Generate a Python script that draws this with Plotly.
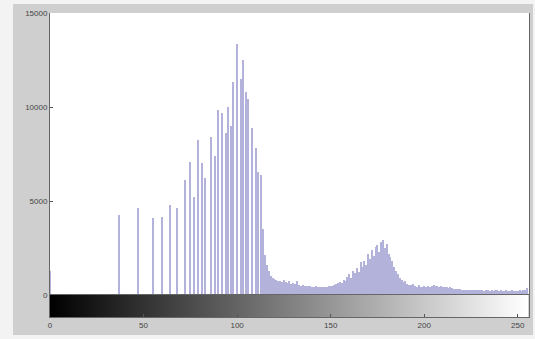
import plotly.graph_objects as go

# Histogram data (gray level -> pixel count)
levels = [0, 37, 47, 55, 60, 64, 68, 72, 75, 77, 79, 81, 83, 86, 88, 90, 92, 94,
          95, 97, 98, 100, 102, 103, 105, 106, 108, 110, 111, 113, 114, 115,
          116, 117, 118, 119, 120, 121, 122, 123, 124, 125, 126, 127, 128, 129, 130,
          131, 132, 133, 134, 135, 136, 137, 138, 139, 140, 141, 142, 143, 144, 145,
          146, 147, 148, 149, 150, 151, 152, 153, 154, 155, 156, 157, 158, 159, 160,
          161, 162, 163, 164, 165, 166, 167, 168, 169, 170, 171, 172, 173, 174, 175,
          176, 177, 178, 179, 180, 181, 182, 183, 184, 185, 186, 187, 188, 189, 190,
          191, 192, 193, 194, 195, 196, 197, 198, 199, 200, 201, 202, 203, 204, 205,
          206, 207, 208, 209, 210, 211, 212, 213, 214, 215, 216, 217, 218, 219, 220,
          221, 222, 223, 224, 225, 226, 227, 228, 229, 230, 231, 232, 233, 234, 235,
          236, 237, 238, 239, 240, 241, 242, 243, 244, 245, 246, 247, 248, 249, 250,
          251, 252, 253, 254, 255]
counts = [1300, 4250, 4650, 4100, 4150, 4800, 4650, 6100, 7050, 5200, 8250, 7000, 6200,
          8400, 7400, 9850, 9700, 8600,
          10000, 9000, 11350, 13350, 11500, 12500, 10800, 10400, 8900, 7800,
          6550, 6400, 3500, 2150,
          1600, 1300, 1000, 900, 850, 780, 760, 720, 700, 820, 680, 650, 760, 600, 640,
          560, 720, 520, 500, 540, 480, 500, 460, 470, 450, 430, 460, 420, 440, 410,
          430, 450, 420, 470, 500, 460, 520, 560, 620, 700, 650, 800, 760, 950, 1100,
          900, 1300, 1150, 1450, 1250, 1750, 1500, 1800, 1600, 2200, 1900, 2400, 2100, 2550, 2650,
          2300, 2800, 2900, 2500, 2700, 2200, 2000, 1800, 1500, 1300, 1100, 900, 800, 700, 750,
          600, 550, 520, 600, 480, 450, 520, 430, 400, 460, 420, 460, 430, 480, 520,
          470, 500, 450, 480, 440, 420, 400, 380, 400, 360, 340, 320, 330, 300, 290,
          280, 270, 280, 260, 270, 250, 260, 240, 250, 240, 250, 230, 240, 250, 230,
          240, 230, 250, 240, 230, 240, 220, 230, 240, 230, 220, 240, 230, 220, 230,
          240, 230, 250, 260, 380]

gray_levels = list(range(256))
x_ticks = [0, 50, 100, 150, 200, 250]
y_ticks = [0, 5000, 10000, 15000]
y_tick_text = ["0", "5000", "10000", "15000"]

fig = go.Figure()
fig.add_trace(go.Bar(x=levels, y=counts, width=0.6,
                     marker=dict(color="#b2b2da", line=dict(width=0)),
                     xaxis="x", yaxis="y", showlegend=False))
fig.add_trace(go.Heatmap(x=gray_levels, y=[0], z=[gray_levels],
                         colorscale=[[0, "#000000"], [1, "#ffffff"]],
                         showscale=False, xaxis="x", yaxis="y2"))

W, H = 535, 339
ml, mr, mt, mb = 50, 6, 13, 22
pw, ph = W - ml - mr, H - mt - mb
cb_frac = 22 / ph

def px(x):
    return (x - ml) / pw

def py(y):
    return (H - mb - y) / ph

fig.update_layout(
    width=W, height=H,
    margin=dict(l=ml, r=mr, t=mt, b=mb, pad=0),
    paper_bgcolor="#f3f3f3",
    plot_bgcolor="rgba(0,0,0,0)",
    bargap=0,
    font=dict(family="Liberation Sans, Arial, sans-serif", size=8, color="#444444"),
    xaxis=dict(range=[0, 256], tickvals=x_ticks, ticks="inside", ticklen=3,
               tickcolor="#555555", showline=True, linecolor="#666666", mirror=True,
               showgrid=False, zeroline=False, anchor="y2", tickfont=dict(size=8)),
    yaxis=dict(range=[0, 15000], tickvals=y_ticks, ticktext=y_tick_text,
               ticks="inside", ticklen=3,
               tickcolor="#555555", showline=True, linecolor="#666666", mirror=True,
               showgrid=False, zeroline=False, domain=[cb_frac, 1], anchor="x",
               tickfont=dict(size=8)),
    yaxis2=dict(domain=[0, cb_frac], range=[-0.5, 0.5], showticklabels=False,
                ticks="", showgrid=False, zeroline=False, showline=True,
                linecolor="#666666", mirror=True, anchor="x"),
    shapes=[
        dict(type="rect", xref="paper", yref="paper", layer="below",
             x0=px(13), x1=px(533), y0=py(335), y1=py(4),
             fillcolor="#cfcfcf", line=dict(width=0)),
        dict(type="rect", xref="paper", yref="paper", layer="below",
             x0=0, x1=1, y0=cb_frac, y1=1,
             fillcolor="#ffffff", line=dict(width=0)),
    ],
)

fig.write_html("out.html")
